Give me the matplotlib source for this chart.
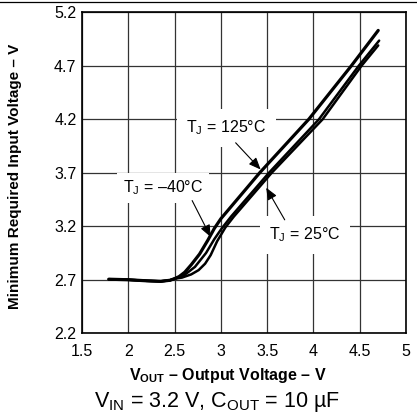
import matplotlib
matplotlib.use("Agg")
import matplotlib.pyplot as plt
from matplotlib.lines import Line2D

plt.rcParams["font.family"] = ["Liberation Sans", "DejaVu Sans"]
plt.rcParams["mathtext.fontset"] = "custom"
plt.rcParams["mathtext.rm"] = "Liberation Sans"
plt.rcParams["mathtext.bf"] = "Liberation Sans:bold"
plt.rcParams["mathtext.it"] = "Liberation Sans:italic"

# shared flat part (dropout region)
flat_x = [1.79, 2.0, 2.2, 2.35, 2.45, 2.5]
flat_y = [2.705, 2.70, 2.69, 2.685, 2.695, 2.71]

# TJ = 125 C (upper curve)
t125_x = [2.55, 2.61, 2.68, 2.77, 2.86, 2.93, 3.00, 3.42, 3.95, 4.41, 4.70]
t125_y = [2.73, 2.77, 2.84, 2.94, 3.07, 3.18, 3.27, 3.70, 4.20, 4.70, 5.03]
# TJ = -40 C (middle curve)
tm40_x = [2.6, 2.72, 2.84, 2.93, 3.01, 3.11, 3.52, 4.06, 4.49, 4.71]
tm40_y = [2.74, 2.82, 2.95, 3.08, 3.18, 3.29, 3.70, 4.20, 4.70, 4.935]
# TJ = 25 C (lower curve)
t25_x = [2.58, 2.68, 2.76, 2.83, 2.89, 2.96, 3.05, 3.14, 3.55, 4.10, 4.52, 4.70]
t25_y = [2.72, 2.75, 2.79, 2.85, 2.93, 3.06, 3.19, 3.29, 3.70, 4.20, 4.70, 4.89]

x_ticks = [1.5, 2, 2.5, 3, 3.5, 4, 4.5, 5]
x_labels = ["1.5", "2", "2.5", "3", "3.5", "4", "4.5", "5"]
y_ticks = [2.2, 2.7, 3.2, 3.7, 4.2, 4.7, 5.2]
y_labels = ["2.2", "2.7", "3.2", "3.7", "4.2", "4.7", "5.2"]

fig = plt.figure(figsize=(4.17, 4.15), dpi=100)
ax = fig.add_axes([0.1966, 0.197, 0.777, 0.7735])

widths = [2.3, 1.8, 1.8]
for (cx, cy), w in zip([(t125_x, t125_y), (tm40_x, tm40_y), (t25_x, t25_y)], widths):
    ax.plot(flat_x + cx, flat_y + cy, color="black", lw=w,
            solid_capstyle="round", solid_joinstyle="round", zorder=2)

ax.set_xlim(1.5, 5)
ax.set_ylim(2.2, 5.2)
ax.set_xticks(x_ticks)
ax.set_xticklabels(x_labels)
ax.set_yticks(y_ticks)
ax.set_yticklabels(y_labels)
ax.tick_params(length=0, labelsize=11.5, pad=4)
ax.tick_params(axis="x", pad=8)
ax.set_axisbelow(True)
ax.grid(True, color="#333333", lw=0.9)
for s in ax.spines.values():
    s.set_linewidth(1.2)
    s.set_color("black")

box = dict(facecolor="white", edgecolor="none", pad=7)
arrow = dict(arrowstyle="-|>,head_length=0.6,head_width=0.25", color="black",
             lw=0.8, mutation_scale=12, shrinkA=0, shrinkB=0)

ax.text(3.06, 4.12, r"T$_\mathregular{J}$ = 125°C", fontsize=11.5,
        ha="center", va="center", bbox=box, zorder=3)
ax.annotate("", xy=(3.43, 3.73), xytext=(3.16, 3.98), arrowprops=arrow, zorder=4)

ax.text(2.375, 3.56, r"T$_\mathregular{J}$ = –40°C", fontsize=11.5,
        ha="center", va="center", bbox=dict(facecolor="white", edgecolor="none", pad=4),
        zorder=3)
ax.annotate("", xy=(2.89, 3.1), xytext=(2.69, 3.44), arrowprops=arrow, zorder=4)

ax.text(3.91, 3.12, r"T$_\mathregular{J}$ = 25°C", fontsize=11.5,
        ha="center", va="center", bbox=box, zorder=3)
ax.annotate("", xy=(3.49, 3.56), xytext=(3.69, 3.26), arrowprops=arrow, zorder=4)

ax.set_ylabel("Minimum Required Input Voltage – V", fontsize=11, fontweight="bold")
ax.yaxis.set_label_coords(-0.185, 0.488)
ax.set_xlabel(r"$\mathbf{V_{OUT}}$ – Output Voltage – V", fontsize=11.5,
              fontweight="bold", va="center")
ax.xaxis.set_label_coords(0.45, -0.133)

fig.text(0.52, 0.031, r"V$_\mathregular{IN}$ = 3.2 V, C$_\mathregular{OUT}$ = 10 µF",
         fontsize=15.5, ha="center", va="center")

fig.add_artist(Line2D([0, 1], [0.996, 0.996], transform=fig.transFigure,
                      color="black", lw=0.9))

fig.savefig("out.png", dpi=100)
